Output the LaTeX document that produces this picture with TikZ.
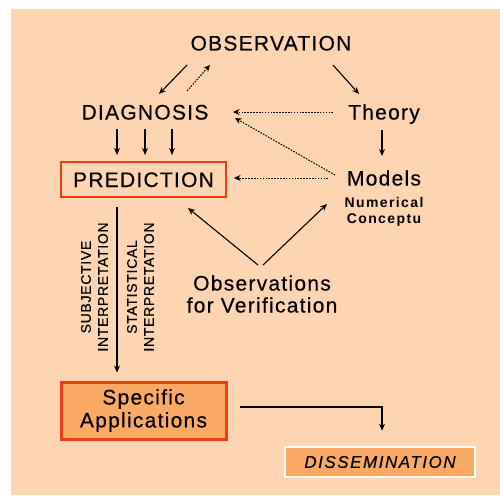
\documentclass[tikz,border=0pt]{standalone}
\usepackage{fontspec}
\setmainfont{Liberation Sans}
\newfontfamily\lsA[LetterSpace=6,FakeBold=0.4]{Liberation Sans}
\newfontfamily\lsB[LetterSpace=10]{Liberation Sans}
\newfontfamily\lsC[LetterSpace=5,FakeBold=0.4]{Liberation Sans}
\newfontfamily\lsD[LetterSpace=9,FakeBold=0.4]{Liberation Sans}
\usetikzlibrary{arrows.meta,calc}
\definecolor{bgpeach}{RGB}{253,213,178}
\definecolor{boxor}{RGB}{250,170,100}
\definecolor{redb}{RGB}{240,60,20}
\begin{document}
\begin{tikzpicture}[x=1pt,y=-1pt,
  lbl/.style={inner sep=0pt, text height=15pt, text depth=0pt, font=\lsA\fontsize{21}{24}\selectfont},
  two/.style={inner sep=0pt, align=center, font=\lsA\fontsize{21}{22}\selectfont},
  small/.style={inner sep=0pt, align=center, font=\lsB\bfseries\fontsize{14}{16}\selectfont},
  rot/.style={inner sep=0pt, rotate=90, align=center, font=\lsC\fontsize{14}{17}\selectfont},
  arr/.style={line width=1.1pt, -{Stealth[length=7pt,width=6pt]}},
  dotarr/.style={line width=1pt, dash pattern=on 1.6pt off 1.3pt, -{Stealth[length=6.5pt,width=6pt]}}]
\useasboundingbox (0,0) rectangle (500,495);
\fill[bgpeach] (11,9) rectangle (500,495);

\node[lbl] (obs) at (271,43) {OBSERVATION};
\node[lbl] (diag) at (145,112) {DIAGNOSIS};
\node[lbl] (theory) at (384,112) {Theory};
\node[lbl] (models) at (384,178) {Models};
\node[small] (numc) at (384,212) {Numerical\\Conceptu};
\node[draw=redb, line width=2pt, minimum width=165pt, minimum height=35pt, inner sep=0pt,
      text height=15pt, text depth=0pt, font=\lsA\fontsize{21}{24}\selectfont] (pred) at (143.5,179.5) {PREDICTION};
\node[two] (ofv) at (262,294) {Observations\\for Verification};
\node[rot] (subj) at (94.5,287) {SUBJECTIVE\\INTERPRETATION};
\node[rot] (stat) at (140.5,287) {STATISTICAL\\INTERPRETATION};
\node[draw=redb, line width=3pt, fill=boxor, minimum width=165pt, minimum height=57pt, inner sep=0pt,
      align=center, font=\lsA\fontsize{21}{23}\selectfont] (spec) at (143.5,410.5) {Specific\\Applications};
\node[draw=white, line width=2.5pt, fill=boxor, minimum width=190pt, minimum height=30pt, inner sep=0pt,
      font=\lsD\itshape\fontsize{17}{20}\selectfont] (diss) at (380,462) {DISSEMINATION};

\draw[arr] ($(obs)+(-84,22)$) -- ($(diag)+(14,-18)$);
\draw[dotarr] ($(diag)+(42,-21)$) -- ($(obs)+(-61,22)$);
\draw[arr] ($(obs)+(62,22)$) -- ($(theory)+(-25,-18)$);
\draw[dotarr] ($(theory)+(-51,0)$) -- ($(diag)+(88,0)$);
\draw[dotarr] ($(models)+(-49,-3)$) -- ($(diag)+(90,6)$);
\draw[dotarr] ($(models)+(-56,0)$) -- ($(pred.east)+(7,-1.5)$);
\draw[arr] ($(theory)+(-2,18)$) -- ($(models)+(-2,-22)$);
\draw[arr] ($(diag)+(-28,17)$) -- ($(pred.north)+(-26.5,-6)$);
\draw[arr] ($(diag)+(0,17)$) -- ($(pred.north)+(1.5,-6)$);
\draw[arr] ($(diag)+(27,17)$) -- ($(pred.north)+(28.5,-6)$);
\draw[arr] ($(ofv)+(-4,-29)$) -- ($(pred.south)+(44.5,10)$);
\draw[arr] ($(ofv)+(1,-29)$) -- ($(models)+(-57,26)$);
\draw[arr] ($(pred.south)+(-26.5,9)$) -- ($(spec.north)+(-26.5,-8)$);
\draw[arr] ($(spec.east)+(12,-3.5)$) -| ($(diss.north)+(2,-15)$);
\end{tikzpicture}
\end{document}
